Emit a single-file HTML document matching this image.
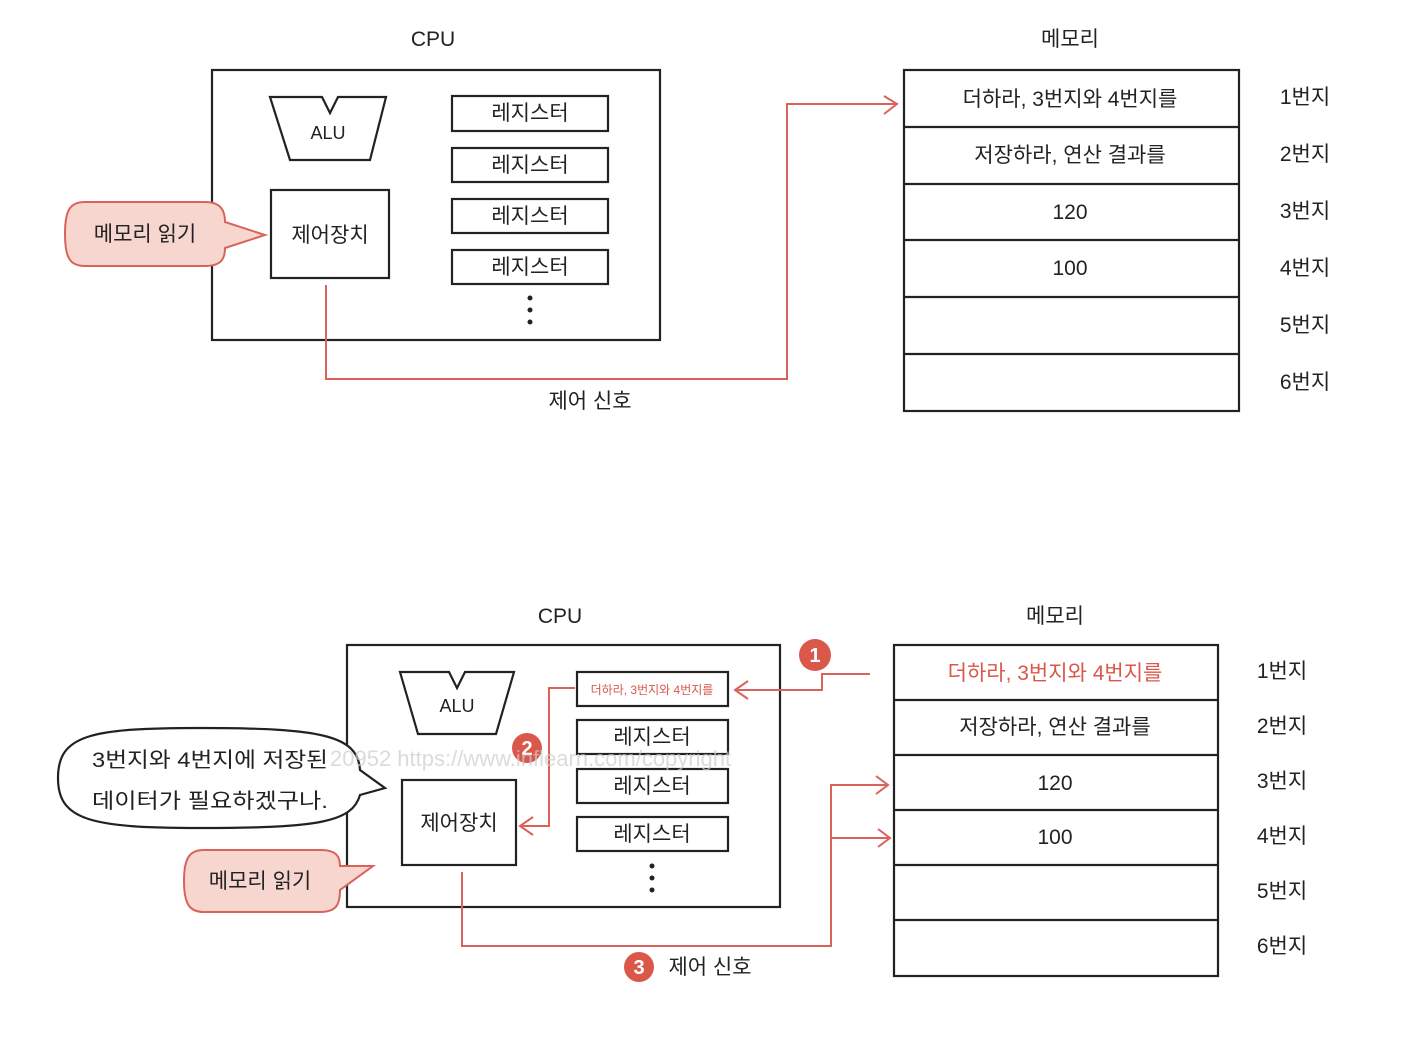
<!DOCTYPE html>
<html><head><meta charset="utf-8"><style>
html,body{margin:0;padding:0;background:#fff;}
svg{display:block;}
text{font-family:"Liberation Sans","Noto Sans CJK KR",sans-serif;fill:#222;}
</style></head><body>
<svg width="1402" height="1056" viewBox="0 0 1402 1056" xmlns="http://www.w3.org/2000/svg">
<g stroke="#222" stroke-width="2.2" fill="none">
<rect x="212" y="70" width="448" height="270"/>
<path d="M270 97 L322 97 L330 113 L338 97 L386 97 L370 160 L290 160 Z"/>
<rect x="271" y="190" width="118" height="88"/>
<rect x="452" y="96" width="156" height="35"/>
<rect x="452" y="148" width="156" height="34"/>
<rect x="452" y="199" width="156" height="34"/>
<rect x="452" y="250" width="156" height="34"/>
<rect x="904" y="70" width="335" height="341"/>
<path d="M904 127H1239M904 184H1239M904 240H1239M904 297H1239M904 354H1239"/>
<rect x="347" y="645" width="433" height="262"/>
<path d="M400 672 L449 672 L457 688 L465 672 L514 672 L496 734 L418 734 Z"/>
<rect x="402" y="780" width="114" height="85"/>
<rect x="577" y="672" width="151" height="34"/>
<rect x="577" y="720" width="151" height="34"/>
<rect x="577" y="769" width="151" height="34"/>
<rect x="577" y="817" width="151" height="34"/>
<rect x="894" y="645" width="324" height="331"/>
<path d="M894 700H1218M894 755H1218M894 810H1218M894 865H1218M894 920H1218"/>
<path d="M58 778 C58 735 90 728 200 728 C320 728 358 735 360 770 L385 788 L360 795 C352 822 320 828 200 828 C90 828 58 820 58 778 Z" fill="#fff"/>
</g>
<g fill="#222">
<circle cx="530" cy="298" r="2.5"/><circle cx="530" cy="310" r="2.5"/><circle cx="530" cy="322" r="2.5"/>
<circle cx="652" cy="866" r="2.5"/><circle cx="652" cy="878" r="2.5"/><circle cx="652" cy="890" r="2.5"/>
</g>
<path d="M85 202 H205 C222 202 225 212 225 222 L265 235 L225 248 C225 258 222 266 205 266 H85 C70 266 65 258 65 234 C65 210 70 202 85 202 Z" fill="#f7d6d0" stroke="#d9635a" stroke-width="2"/>
<path d="M204 850 H320 C336 850 340 856 340 866 L373 866 L340 890 C340 905 336 912 320 912 H204 C190 912 184 905 184 881 C184 857 190 850 204 850 Z" fill="#f7d6d0" stroke="#d9635a" stroke-width="2"/>
<g stroke="#d9635a" stroke-width="2" fill="none">
<path d="M326 285 V379 H787 V104 H897"/>
<path d="M884 96 L897 104 L884 114"/>
<path d="M870 674 H822 V690 H735"/>
<path d="M748 681 L735 690 L748 699"/>
<path d="M575 688 H549 V826 H520"/>
<path d="M533 817 L520 826 L533 835"/>
<path d="M462 872 V946 H831 V785 H888 M831 838 H890"/>
<path d="M876 776 L888 785 L876 794 M878 829 L890 838 L878 847"/>
</g>
<g fill="#d9584a">
<circle cx="815" cy="655" r="16"/><circle cx="527" cy="748" r="15"/><circle cx="639" cy="967" r="15"/>
</g>
<g font-size="20" font-weight="bold" text-anchor="middle">
<text x="815" y="662" style="fill:#fff">1</text><text x="527" y="755" style="fill:#fff">2</text><text x="639" y="974" style="fill:#fff">3</text>
</g>
<g font-size="21" text-anchor="middle">
<text x="433" y="46">CPU</text>
<text x="1070" y="46">메모리</text>
<text x="328" y="139" font-size="18">ALU</text>
<text x="330" y="242">제어장치</text>
<text x="530" y="120">레지스터</text>
<text x="530" y="172">레지스터</text>
<text x="530" y="223">레지스터</text>
<text x="530" y="274">레지스터</text>
<text x="145" y="241">메모리 읽기</text>
<text x="590" y="408">제어 신호</text>
<text x="1070" y="106">더하라, 3번지와 4번지를</text>
<text x="1070" y="162">저장하라, 연산 결과를</text>
<text x="1070" y="219">120</text>
<text x="1070" y="275">100</text>
<text x="1305" y="104">1번지</text><text x="1305" y="161">2번지</text><text x="1305" y="218">3번지</text>
<text x="1305" y="275">4번지</text><text x="1305" y="332">5번지</text><text x="1305" y="389">6번지</text>
<text x="560" y="623">CPU</text>
<text x="1055" y="623">메모리</text>
<text x="457" y="712" font-size="18">ALU</text>
<text x="459" y="830">제어장치</text>
<text x="652" y="694" font-size="12" style="fill:#d9584a">더하라, 3번지와 4번지를</text>
<text x="652" y="744">레지스터</text>
<text x="652" y="793">레지스터</text>
<text x="652" y="841">레지스터</text>
<text x="1055" y="680" style="fill:#d9584a">더하라, 3번지와 4번지를</text>
<text x="1055" y="734">저장하라, 연산 결과를</text>
<text x="1055" y="790">120</text>
<text x="1055" y="844">100</text>
<text x="1282" y="678">1번지</text><text x="1282" y="733">2번지</text><text x="1282" y="788">3번지</text>
<text x="1282" y="843">4번지</text><text x="1282" y="898">5번지</text><text x="1282" y="953">6번지</text>
<text x="260" y="888">메모리 읽기</text>
<text x="710" y="974">제어 신호</text>
</g>
<g font-size="21">
<text x="92" y="767" textLength="236" lengthAdjust="spacingAndGlyphs">3번지와 4번지에 저장된</text>
<text x="92" y="808" textLength="236" lengthAdjust="spacingAndGlyphs">데이터가 필요하겠구나.</text>
</g>
<text x="330" y="766" font-size="22" style="fill:#ccc;opacity:0.7">20952 https://www.inflearn.com/copyright</text>
</svg>
</body></html>
